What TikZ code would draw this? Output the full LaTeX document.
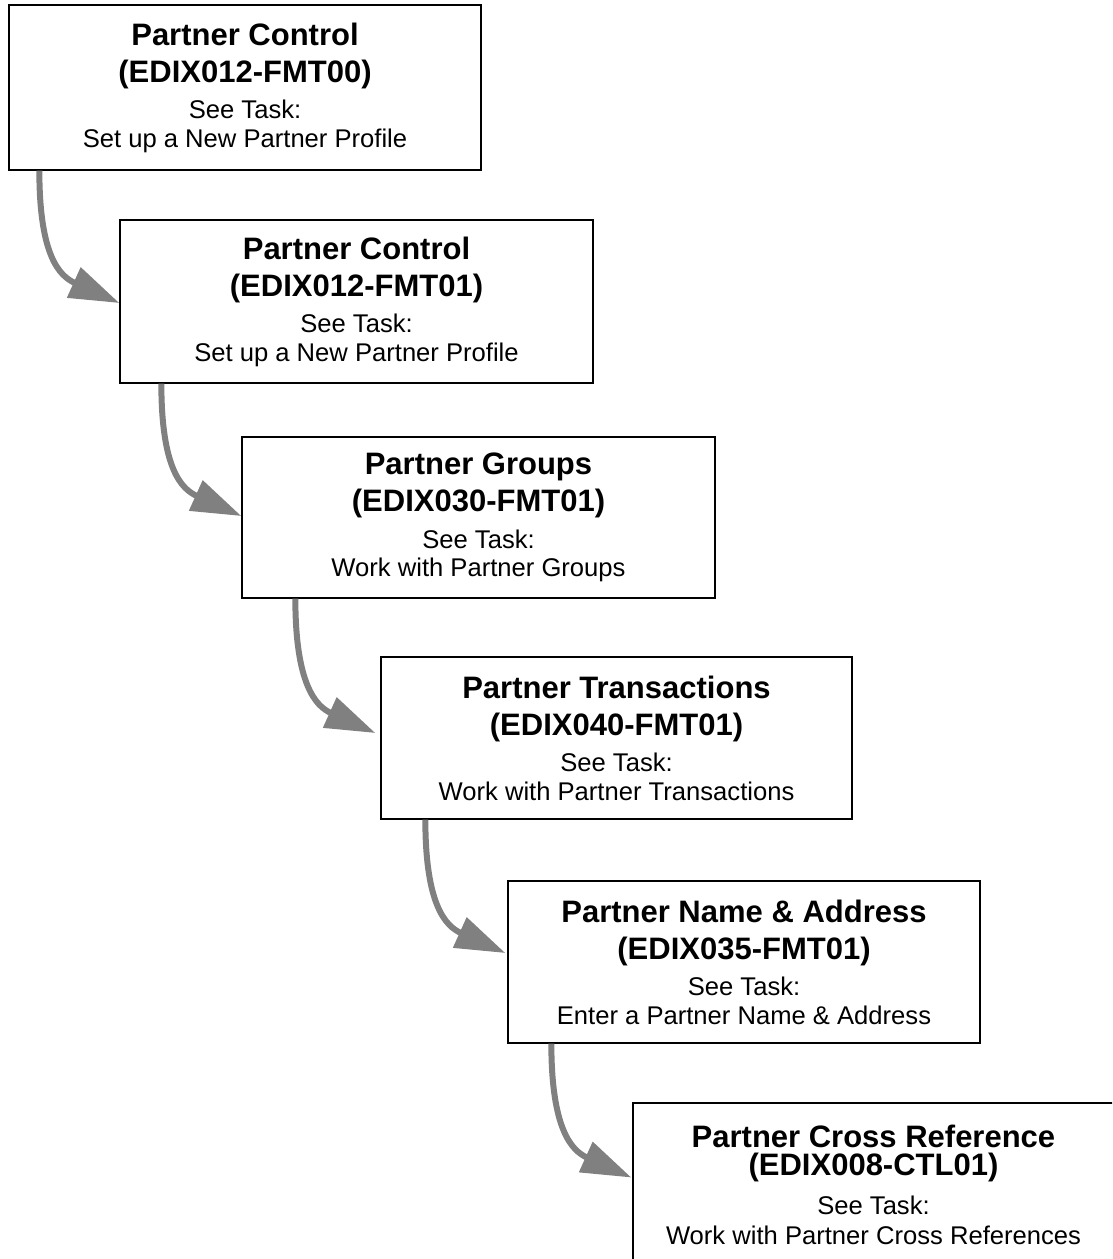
\documentclass[tikz,border=0pt]{standalone}
\usepackage{fontspec}
\setmainfont{Liberation Sans}
\usetikzlibrary{arrows.meta}
\definecolor{arrowgray}{RGB}{128,128,128}
\newcommand\ttlf{\fontsize{31}{37}\selectfont\bfseries}
\newcommand\bdyf{\normalfont\fontsize{25.6}{28.5}\selectfont}
\newcommand\boxtext[3]{\parbox[c]{460pt}{\centering\ttlf #1\par #2\par\bdyf\vspace{8pt}See Task:\par #3\par}}
\begin{document}
\begin{tikzpicture}[x=1pt,y=-1pt,
  box/.style={draw=black, line width=1.3pt, fill=white, inner sep=0pt},
  flow/.style={draw=arrowgray, line width=6pt, line cap=butt,
    -{Triangle[length=50pt,width=32pt]}}]
\clip (0,0) rectangle (1112,1259);
\fill[white] (0,0) rectangle (1112,1259);

\node[box, minimum width=472pt, minimum height=165pt] (b1) at (245,87.5)
  {\boxtext{Partner Control}{(EDIX012-FMT00)}{Set up a New Partner Profile}};
\node[box, minimum width=473pt, minimum height=163pt] (b2) at (356.5,301.5)
  {\boxtext{Partner Control}{(EDIX012-FMT01)}{Set up a New Partner Profile}};
\node[box, minimum width=473pt, minimum height=161pt] (b3) at (478.5,517.5)
  {\boxtext{Partner Groups}{(EDIX030-FMT01)}{Work with Partner Groups}};
\node[box, minimum width=471pt, minimum height=162pt] (b4) at (616.5,738)
  {\boxtext{Partner Transactions}{(EDIX040-FMT01)}{Work with Partner Transactions}};
\node[box, minimum width=472pt, minimum height=162pt] (b5) at (744,962)
  {\boxtext{Partner Name \& Address}{(EDIX035-FMT01)}{Enter a Partner Name \& Address}};
\node[box, minimum width=481pt, minimum height=163pt] (b6) at (873.5,1184.5)
  {\parbox[c]{470pt}{\centering\fontsize{31}{28}\selectfont\bfseries Partner Cross Reference\par (EDIX008-CTL01)\par
   \normalfont\fontsize{25.6}{30}\selectfont\vspace{9pt}See Task:\par Work with Partner Cross References\par}};

\draw[flow] ([xshift=31pt]b1.south west) .. controls +(0,85) and +(-60,-27) .. ([yshift=-1.5pt]b2.west);
\draw[flow] ([xshift=42pt]b2.south west) .. controls +(0,85) and +(-60,-27) .. ([yshift=1.5pt]b3.west);
\draw[flow] ([xshift=54pt]b3.south west) .. controls +(0,85) and +(-60,-27) .. ([xshift=-5pt,yshift=5pt]b4.west);
\draw[flow] ([xshift=45pt]b4.south west) .. controls +(0,85) and +(-60,-27) .. ([xshift=-2pt,yshift=9pt]b5.west);
\draw[flow] ([xshift=44pt]b5.south west) .. controls +(0,85) and +(-60,-27) .. ([xshift=-1pt,yshift=7pt]b6.west);
\end{tikzpicture}
\end{document}
